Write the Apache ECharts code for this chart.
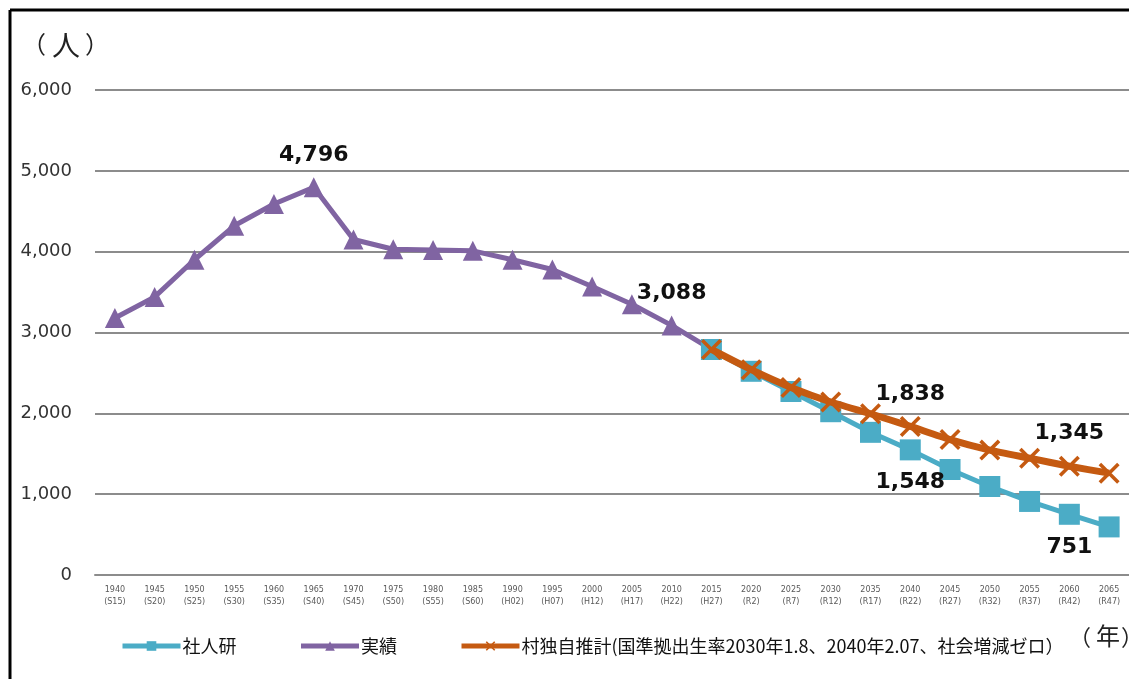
<!DOCTYPE html>
<html>
<head>
<meta charset="utf-8">
<script src="https://cdn.jsdelivr.net/npm/echarts@6/dist/echarts.min.js"></script>
<style>
    html, body { margin: 0; padding: 0; background: #fff; }
    #chart { width: 1129px; height: 679px; }
</style>
</head>
<body>
<div id="chart"></div>
<script>
    var years = ['1940', '1945', '1950', '1955', '1960', '1965', '1970', '1975', '1980', '1985',
        '1990', '1995', '2000', '2005', '2010', '2015', '2020', '2025', '2030', '2035',
        '2040', '2045', '2050', '2055', '2060', '2065'];
    var eras = ['S15', 'S20', 'S25', 'S30', 'S35', 'S40', 'S45', 'S50', 'S55', 'S60',
        'H02', 'H07', 'H12', 'H17', 'H22', 'H27', 'R2', 'R7', 'R12', 'R17',
        'R22', 'R27', 'R32', 'R37', 'R42', 'R47'];
    var yTicks = [0, 1000, 2000, 3000, 4000, 5000, 6000];

    // 実績
    var actual = [3180, 3440, 3900, 4320, 4590, 4796, 4150, 4030, 4020, 4010,
        3900, 3780, 3570, 3350, 3088, 2790, null, null, null, null,
        null, null, null, null, null, null];
    // 社人研
    var ipss = [null, null, null, null, null, null, null, null, null, null,
        null, null, null, null, null, 2790, 2520, 2270, 2020, 1765,
        1548, 1305, 1095, 910, 751, 595];
    // 村独自推計
    var village = [null, null, null, null, null, null, null, null, null, null,
        null, null, null, null, null, 2790, 2540, 2320, 2140, 1995,
        1838, 1675, 1545, 1445, 1345, 1260];

    var labelTop = {'actual': [5, 14], 'village': [20, 24]};
    var labelBottom = {'ipss': [20, 24]};

    var valueFont = {
        show: true,
        fontSize: 22,
        fontWeight: 'bold',
        fontFamily: 'DejaVu Sans, Verdana, sans-serif',
        color: '#111',
        formatter: function (p) { return p.value.toLocaleString('en-US'); }
    };

    function buildData(values, top, bottom) {
        return values.map(function (v, i) {
            if (top && top.indexOf(i) >= 0) {
                return {value: v, label: Object.assign({position: 'top', distance: 11}, valueFont)};
            }
            if (bottom && bottom.indexOf(i) >= 0) {
                return {value: v, label: Object.assign({position: 'bottom', distance: 11}, valueFont)};
            }
            return v;
        });
    }

    var crossPath = 'path://M0,1.2L1.2,0L10,8.8L8.8,10ZM8.8,0L10,1.2L1.2,10L0,8.8Z';

    var chart = echarts.init(document.getElementById('chart'));
    var jpFont = '"Noto Sans CJK JP", sans-serif';
    var numFont = 'DejaVu Sans, Verdana, sans-serif';

    chart.setOption({
        animation: false,
        textStyle: {fontFamily: jpFont},
        grid: {left: 95, right: 0, top: 90, bottom: 104, containLabel: false},
        graphic: [
            {type: 'line', shape: {x1: 10, y1: 10, x2: 1129, y2: 10}, style: {stroke: '#000', lineWidth: 3}},
            {type: 'line', shape: {x1: 10, y1: 10, x2: 10, y2: 679}, style: {stroke: '#000', lineWidth: 3}},
            {type: 'text', left: 22, top: 32, style: {text: '（', fontSize: 24, fontFamily: jpFont, fill: '#222'}},
            {type: 'text', left: 52, top: 31, style: {text: '人', fontSize: 28, fontFamily: jpFont, fill: '#222'}},
            {type: 'text', left: 85, top: 32, style: {text: '）', fontSize: 24, fontFamily: jpFont, fill: '#222'}},
            {type: 'text', left: 1069, top: 626, style: {text: '（', fontSize: 22, fontFamily: jpFont, fill: '#222'}},
            {type: 'text', left: 1096, top: 624, style: {text: '年', fontSize: 24, fontFamily: jpFont, fill: '#222'}},
            {type: 'text', left: 1121, top: 626, style: {text: '）', fontSize: 22, fontFamily: jpFont, fill: '#222'}}
        ],
        legend: {
            left: 120,
            top: 637,
            padding: 0,
            itemWidth: 58,
            itemHeight: 12,
            itemGap: 62,
            lineStyle: {width: 5},
            textStyle: {fontSize: 18, color: '#111', fontFamily: jpFont, padding: [0, 0, 0, -3]},
            data: ['社人研', '実績', '村独自推計(国準拠出生率2030年1.8、2040年2.07、社会増減ゼロ）']
        },
        xAxis: {
            type: 'category',
            data: years,
            boundaryGap: true,
            axisLine: {lineStyle: {color: '#8c8c8c', width: 2}},
            axisTick: {alignWithLabel: true, length: 3, lineStyle: {color: '#8c8c8c'}},
            axisLabel: {
                interval: 0,
                margin: 9,
                fontSize: 8,
                lineHeight: 12,
                color: '#595959',
                fontFamily: numFont,
                formatter: function (v, i) { return v + '\n(' + eras[i] + ')'; }
            }
        },
        yAxis: {
            type: 'value',
            min: yTicks[0],
            max: yTicks[yTicks.length - 1],
            interval: 1000,
            axisLine: {show: false},
            axisTick: {show: false},
            splitLine: {lineStyle: {color: '#8c8c8c', width: 2}},
            axisLabel: {
                margin: 23,
                fontSize: 18,
                color: '#333',
                fontFamily: numFont,
                formatter: function (v) { return v.toLocaleString('en-US'); }
            }
        },
        series: [
            {
                name: '実績',
                type: 'line',
                data: buildData(actual, labelTop.actual),
                symbol: 'triangle',
                symbolSize: 20,
                lineStyle: {color: '#8064A2', width: 5},
                itemStyle: {color: '#8064A2'},
                z: 2
            },
            {
                name: '社人研',
                type: 'line',
                data: buildData(ipss, null, labelBottom.ipss),
                symbol: 'rect',
                symbolSize: 21,
                lineStyle: {color: '#4BACC6', width: 5},
                itemStyle: {color: '#4BACC6'},
                z: 3
            },
            {
                name: '村独自推計(国準拠出生率2030年1.8、2040年2.07、社会増減ゼロ）',
                type: 'line',
                data: buildData(village, labelTop.village),
                smooth: 0.2,
                symbol: crossPath,
                symbolSize: 21,
                lineStyle: {color: '#C55A11', width: 7},
                itemStyle: {color: '#C55A11'},
                z: 4
            }
        ]
    });
</script>
</body>
</html>
